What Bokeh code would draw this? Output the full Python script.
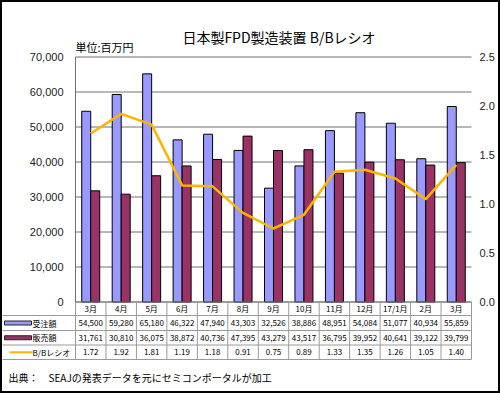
from bokeh.plotting import figure
from bokeh.models import Range1d
from bokeh.core.properties import value
from bokeh.embed import file_html
from bokeh.resources import INLINE

# ---------------- data ----------------
months = ["3月", "4月", "5月", "6月", "7月", "8月", "9月", "10月", "11月", "12月", "17/1月", "2月", "3月"]
orders = [54500, 59280, 65180, 46322, 47940, 43303, 32526, 38886, 48951, 54084, 51077, 40934, 55859]
sales = [31761, 30810, 36075, 38872, 40736, 47395, 43279, 43517, 36795, 39952, 40641, 39122, 39799]
bb_ratio = [1.72, 1.92, 1.81, 1.19, 1.18, 0.91, 0.75, 0.89, 1.33, 1.35, 1.26, 1.05, 1.40]
left_ticks = [0, 10000, 20000, 30000, 40000, 50000, 60000, 70000]
right_ticks = [0.0, 0.5, 1.0, 1.5, 2.0, 2.5]
series_names = ["受注額", "販売額", "B/Bレシオ"]
title_text = "日本製FPD製造装置 B/Bレシオ"
unit_text = "単位:百万円"
source_text = "出典：　SEAJの発表データを元にセミコンポータルが加工"

# ---------------- layout (pixel space) ----------------
W, H = 500, 393
OX, OY = 0, 0
PL, PR = 75.0, 471.0
PT, PB = 56.5, 301.5
N = len(months)
CW = (PR - PL) / N
YMAX = left_ticks[-1]
RMAX = right_ticks[-1]
scale = YMAX / (PB - PT)
rscale = YMAX / RMAX

JP = value("Noto Sans CJK JP")
SANS = value("Liberation Sans")

BLUE = "#9999FF"
PLUM = "#993366"
GOLD = "#FFB400"

p = figure(width=W, height=H, output_backend="svg", toolbar_location=None,
           x_axis_location=None, y_axis_location=None, min_border=0,
           x_range=Range1d((OX - PL) / CW - 0.5, (OX + W - PL) / CW - 0.5),
           y_range=Range1d((PB - (OY + H)) * scale, (PB - OY) * scale))
p.extra_y_ranges = {
    "ratio": Range1d((PB - (OY + H)) * scale / rscale, (PB - OY) * scale / rscale),
    "py": Range1d(OY + H, OY),
}
p.extra_x_ranges = {"px": Range1d(OX, OX + W)}
p.grid.visible = False
p.background_fill_color = "white"
p.border_fill_color = "white"
p.outline_line_color = "black"
p.outline_line_width = 3

idx = list(range(N))

# gridlines
p.segment(x0=-0.5, x1=N - 0.5, y0=left_ticks, y1=left_ticks, line_color="#707070", line_width=1)
# left axis line
p.segment(x0=[-0.5], x1=[-0.5], y0=[0], y1=[YMAX], line_color="#707070", line_width=1)

# tick labels
p.text(x=-0.5, y=left_ticks, text=[f"{t:,}" for t in left_ticks], x_offset=-12,
       text_align="right", text_baseline="middle", text_font=SANS,
       text_font_size=value("11px"), text_color="#222222")
p.text(x=N - 0.5, y=right_ticks, y_range_name="ratio", text=[f"{t:.1f}" for t in right_ticks],
       x_offset=8, text_align="left", text_baseline="middle", text_font=SANS,
       text_font_size=value("11px"), text_color="#222222")

# bars
bw = 9.0 / CW
p.vbar(x=[i - bw / 2 for i in idx], width=bw, top=orders, bottom=0,
       fill_color=BLUE, line_color="black", line_width=1)
p.vbar(x=[i + bw / 2 for i in idx], width=bw, top=sales, bottom=0,
       fill_color=PLUM, line_color="black", line_width=1)

# ratio line
p.line(x=idx, y=bb_ratio, y_range_name="ratio", line_color=GOLD, line_width=2.5)

# ---------------- data table ----------------
rows = [301.5, 315.0, 330.0, 344.5, 359.0]
centers = [(rows[k] + rows[k + 1]) / 2 for k in range(4)]
TL = "#9a9a9a"
p.segment(x0=[PL], x1=[PR], y0=[rows[0]], y1=[rows[0]], x_range_name="px", y_range_name="py",
          line_color="#808080", line_width=1)
p.segment(x0=2, x1=PR, y0=rows[1:], y1=rows[1:], x_range_name="px", y_range_name="py",
          line_color=TL, line_width=1)
p.segment(x0=[k - 0.5 for k in range(N + 1)], x1=[k - 0.5 for k in range(N + 1)],
          y0=rows[0], y1=rows[-1], y_range_name="py", line_color=TL, line_width=1)

p.text(x=idx, y=centers[0], y_range_name="py", text=months, text_align="center",
       text_baseline="middle", text_font=JP, text_font_size=value("8px"), text_color="black")
p.text(x=idx, y=centers[1], y_range_name="py", text=[f"{v:,}" for v in orders], text_align="center",
       text_baseline="middle", text_font=JP, text_font_size=value("8px"), text_color="black")
p.text(x=idx, y=centers[2], y_range_name="py", text=[f"{v:,}" for v in sales], text_align="center",
       text_baseline="middle", text_font=JP, text_font_size=value("8px"), text_color="black")
p.text(x=idx, y=centers[3], y_range_name="py", text=[f"{v:.2f}" for v in bb_ratio], text_align="center",
       text_baseline="middle", text_font=JP, text_font_size=value("8px"), text_color="black")

# legend keys in the table
p.quad(left=[4, 4], right=[31, 31], top=[centers[1] - 2, centers[2] - 2],
       bottom=[centers[1] + 2, centers[2] + 2], x_range_name="px", y_range_name="py",
       fill_color=[BLUE, PLUM], line_color="#222222", line_width=1)
p.segment(x0=[9], x1=[32], y0=[centers[3]], y1=[centers[3]], x_range_name="px", y_range_name="py",
          line_color=GOLD, line_width=2)
p.text(x=32, y=centers[1:], x_range_name="px", y_range_name="py", text=series_names,
       text_align="left", text_baseline="middle", text_font=JP, text_font_size=value("8px"),
       text_color="black")

# titles
p.text(x=[278.5], y=[36], x_range_name="px", y_range_name="py", text=[title_text],
       text_align="center", text_baseline="middle", text_font=JP, text_font_size=value("14px"),
       text_color="black")
p.text(x=[75], y=[46.5], x_range_name="px", y_range_name="py", text=[unit_text],
       text_align="left", text_baseline="middle", text_font=JP, text_font_size=value("11px"),
       text_color="black")
p.text(x=[8], y=[377], x_range_name="px", y_range_name="py", text=[source_text],
       text_align="left", text_baseline="middle", text_font=JP, text_font_size=value("10px"),
       text_color="black")

open("out.html", "w").write(file_html(p, INLINE))
